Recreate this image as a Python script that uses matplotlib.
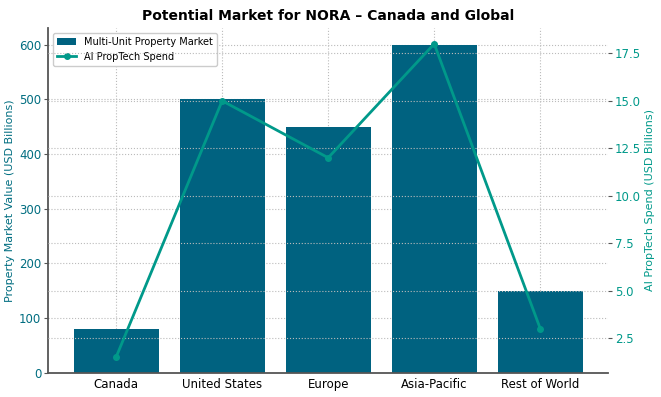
import matplotlib.pyplot as plt

regions = ["Canada", "United States", "Europe", "Asia-Pacific", "Rest of World"]
property_market = [80, 500, 450, 600, 150]
proptech_spend = [1.5, 15, 12, 18, 3]

bar_color = '#006280'
line_color = '#00998a'
left_color = '#006d80'

fig = plt.figure(figsize=(6.61, 3.97), dpi=100)
ax = fig.add_axes([0.073, 0.061, 0.847, 0.868])

bars = ax.bar(regions, property_market, width=0.8, color=bar_color,
              label='Multi-Unit Property Market', zorder=2)
ax.set_ylabel('Property Market Value (USD Billions)', color=left_color,
              fontsize=8, labelpad=3)
ax.tick_params(axis='y', colors=left_color, labelsize=8.5, length=3, pad=2)
ax.tick_params(axis='y', color='#555555')
ax.tick_params(axis='x', labelsize=8.5, length=0, pad=4)
ax.grid(True, linestyle=':', color='#bbbbbb', linewidth=0.8, zorder=0)
ax.set_axisbelow(True)
for s in ['top', 'right']:
    ax.spines[s].set_visible(False)
ax.spines['left'].set_color('#555555')
ax.spines['left'].set_linewidth(1.3)
ax.spines['bottom'].set_color('#555555')
ax.spines['bottom'].set_linewidth(1.3)

ax2 = ax.twinx()
line, = ax2.plot(regions, proptech_spend, color=line_color, marker='o',
                 markersize=4, linewidth=2, label='AI PropTech Spend')
ax2.set_ylabel('AI PropTech Spend (USD Billions)', color=line_color,
               fontsize=8, labelpad=3)
ax2.tick_params(axis='y', labelcolor=line_color, color='#555555',
                labelsize=8.5, length=3, pad=2)
ax2.grid(True, axis='y', linestyle=':', color='#bbbbbb', linewidth=0.8)
for s in ['top', 'right', 'left', 'bottom']:
    ax2.spines[s].set_visible(False)

ax.legend([bars, line], ['Multi-Unit Property Market', 'AI PropTech Spend'],
          loc='upper left', fontsize=7, framealpha=1, edgecolor='#cccccc')

ax.set_title('Potential Market for NORA – Canada and Global', fontsize=10,
             fontweight='bold', pad=6)

fig.savefig('out.png', dpi=100)
